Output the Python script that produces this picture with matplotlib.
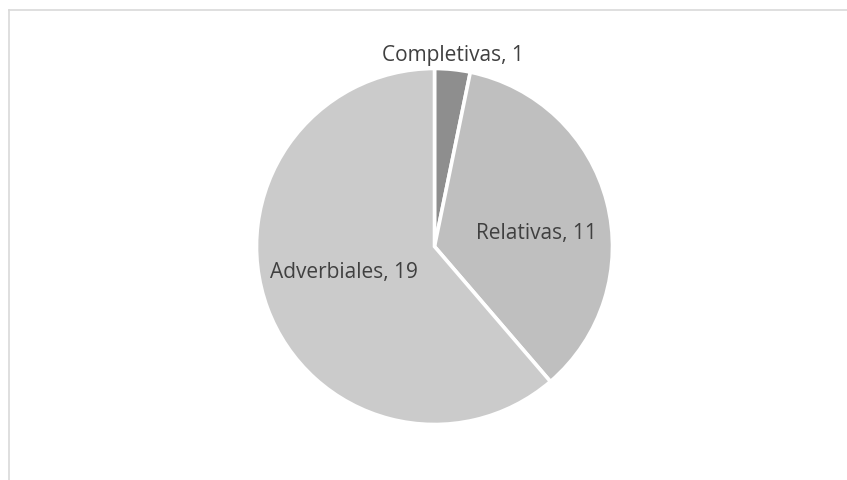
import matplotlib.pyplot as plt
import numpy as np

categorias = ['Completivas', 'Relativas', 'Adverbiales']
valores = [1, 11, 19]
colores = ['#8e8e8e', '#bfbfbf', '#cbcbcb']

# label placement as (radius fraction, angle offset from slice middle in degrees)
pos_etiquetas = [(1.063, 0.3), (0.580, -9.6), (0.544, -1.6)]

W, H = 847, 481
fig = plt.figure(figsize=(W / 100, H / 100), dpi=100)
ax = fig.add_axes([0, 0, 1, 1])

cx, cy, r = 434.5, H - 247.5, 176.5

wedges, _ = ax.pie(valores, colors=colores, startangle=90, counterclock=False,
                   center=(cx, cy), radius=r + 1.5, frame=True,
                   wedgeprops=dict(edgecolor='white', linewidth=2.6))
ax.set_xlim(0, W)
ax.set_ylim(0, H)
ax.set_aspect('equal')
ax.axis('off')

for w, cat, val, (rf, off) in zip(wedges, categorias, valores, pos_etiquetas):
    ang = np.deg2rad((w.theta1 + w.theta2) / 2 + off)
    x = cx + rf * r * np.cos(ang)
    y = cy + rf * r * np.sin(ang)
    ax.text(x, y, f'{cat}, {val}', ha='center', va='baseline',
            fontsize=15, color='#404040', family='Open Sans')

# chart frame
ax.plot([8.5, W], [H - 11, H - 11], color='#d9d9d9', lw=1.2, clip_on=False)
ax.plot([8.5, 8.5], [0, H - 11], color='#d9d9d9', lw=1.2, clip_on=False)

fig.savefig('out.png', dpi=100)
